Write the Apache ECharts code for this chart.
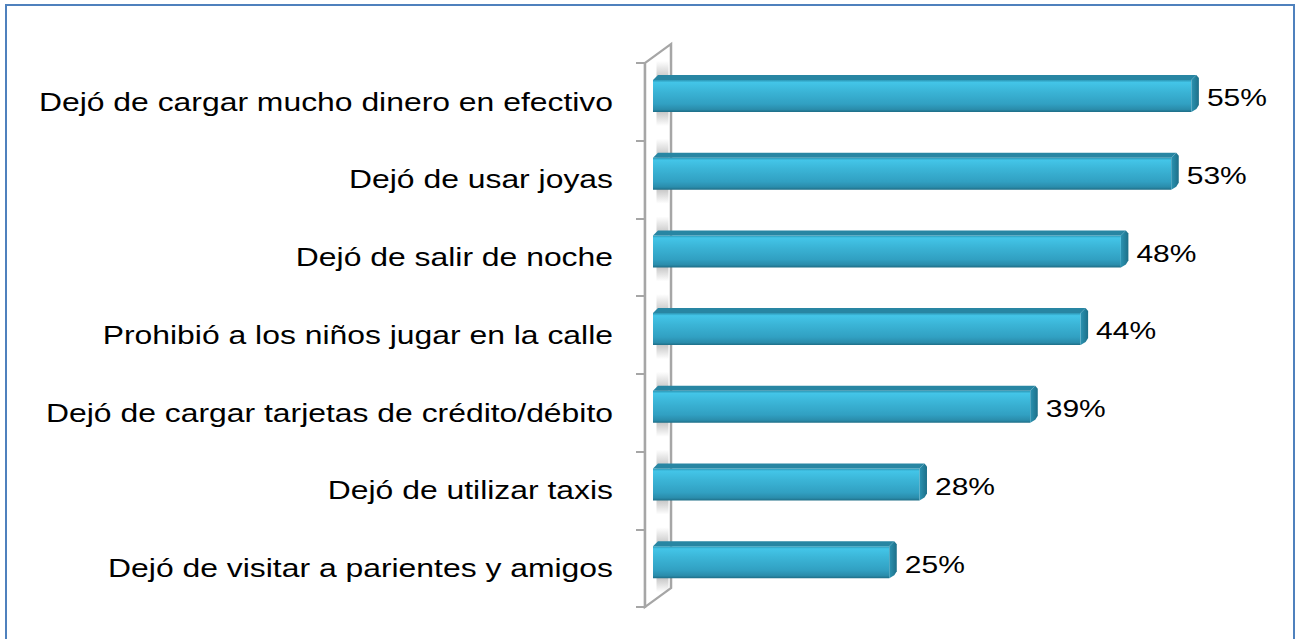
<!DOCTYPE html>
<html>
<head>
<meta charset="utf-8">
<script src="https://cdn.jsdelivr.net/npm/echarts@6/dist/echarts.min.js"></script>
<style>
  html, body { margin: 0; padding: 0; background: #fff; overflow: hidden; }
  #stage { position: relative; width: 1299px; height: 639px; overflow: hidden; background: #fff; }
  #frame { position: absolute; left: 5px; top: 4px; width: 1286px; height: 700px; border: 2px solid #4f81bd; }
  /* the chart is laid out narrow and widened horizontally */
  #chart { position: absolute; left: 0; top: 0; width: 1039px; height: 639px;
           transform-origin: 0 0; transform: scaleX(1.25024); }
</style>
</head>
<body>
<div id="stage"><div id="frame"></div><div id="chart"></div></div>
<script>
const categories = [
  'Dejó de cargar mucho dinero en efectivo',
  'Dejó de usar joyas',
  'Dejó de salir de noche',
  'Prohibió a los niños jugar en la calle',
  'Dejó de cargar tarjetas de crédito/débito',
  'Dejó de utilizar taxis',
  'Dejó de visitar a parientes y amigos'
];
const values = [55, 53, 48, 44, 39, 28, 25];
const valueLabels = ['55%', '53%', '48%', '44%', '39%', '28%', '25%'];

const FONT = '"Liberation Sans", Arial, sans-serif';
const WALL = '#a6a6a6';

const chart = echarts.init(document.getElementById('chart'), null, { renderer: 'svg' });

// back wall of the 3D plot area
function renderWall(params) {
  const c = params.coordSys;
  const dx = 20.8, dy = 19;
  return {
    type: 'polygon',
    shape: { points: [[c.x, c.y], [c.x + dx, c.y - dy], [c.x + dx, c.y + c.height - dy], [c.x, c.y + c.height]] },
    style: { fill: '#fff', stroke: WALL, lineWidth: 2 }
  };
}

// bevelled horizontal bar with end cap, wall shading and value label
function renderBar(params, api) {
  const v = api.value(0), idx = api.value(1);
  const tip = api.coord([v, idx]);
  const base = api.coord([0, idx]);
  const band = api.size([0, 1])[1];
  const yc = tip[1];
  const top = yc - 0.346 * band;
  const bot = yc + 0.13 * band;
  const x0 = base[0] + 6.4;
  const x1 = tip[0];
  const cap = 6, lip = 5;
  const shadeX = base[0] + 9.2, shadeW = 9.6;

  return {
    type: 'group',
    children: [
      { type: 'rect', shape: { x: shadeX, y: top - 14, width: shadeW, height: 14 + lip },
        style: { fill: new echarts.graphic.LinearGradient(0, 0, 0, 1, [
          { offset: 0, color: 'rgba(140,140,140,0)' }, { offset: 1, color: 'rgba(140,140,140,0.55)' }]) } },
      { type: 'rect', shape: { x: shadeX, y: bot - 2, width: shadeW, height: 16 },
        style: { fill: new echarts.graphic.LinearGradient(0, 0, 0, 1, [
          { offset: 0, color: 'rgba(140,140,140,0.55)' }, { offset: 1, color: 'rgba(140,140,140,0)' }]) } },
      { type: 'polygon',
        shape: { points: [[x0, top + lip], [x0 + 4, top], [x1 - 2, top], [x1 - cap, top + lip]] },
        style: { fill: '#2886a3' } },
      { type: 'rect', shape: { x: x0, y: top + lip, width: x1 - cap - x0, height: bot - top - lip },
        style: { fill: new echarts.graphic.LinearGradient(0, 0, 0, 1, [
          { offset: 0, color: '#2c97b6' },
          { offset: 0.08, color: '#43c5e8' },
          { offset: 0.35, color: '#3bb5d7' },
          { offset: 0.75, color: '#31a0c2' },
          { offset: 0.92, color: '#2a8cab' },
          { offset: 1, color: '#1e6d86' }]) } },
      { type: 'polygon',
        shape: { points: [[x1 - cap, top + lip], [x1 - 2, top], [x1, top + 3], [x1, bot - lip - 2], [x1 - 2, bot - 3], [x1 - cap, bot]] },
        style: { fill: new echarts.graphic.LinearGradient(0, 0, 1, 0, [
          { offset: 0, color: '#2b93b2' }, { offset: 1, color: '#1d6f88' }]) } },
      { type: 'text', x: x1 + 6.4, y: yc - 4,
        style: { text: valueLabels[idx], fontSize: 24, fontFamily: FONT, fill: '#000',
                 align: 'left', verticalAlign: 'middle' } }
    ]
  };
}

chart.setOption({
  animation: false,
  backgroundColor: 'transparent',
  grid: { left: 515.9, right: 39.8, top: 63, bottom: 32, containLabel: false },
  xAxis: { type: 'value', min: 0, max: 60, show: false },
  yAxis: {
    type: 'category',
    data: categories,
    inverse: true,
    axisLine: { show: true, lineStyle: { color: WALL, width: 2 } },
    axisTick: { show: true, length: 7.2, lineStyle: { color: WALL, width: 2 } },
    axisLabel: { margin: 25.6, fontSize: 25.5, color: '#000', fontFamily: FONT },
    splitLine: { show: false }
  },
  series: [
    { type: 'custom', renderItem: renderWall, data: [[0, 0]], z: 1, silent: true },
    { type: 'custom', renderItem: renderBar, data: values.map((v, i) => [v, i]),
      encode: { x: 0, y: 1 }, z: 3, clip: false }
  ]
});
</script>
</body>
</html>
